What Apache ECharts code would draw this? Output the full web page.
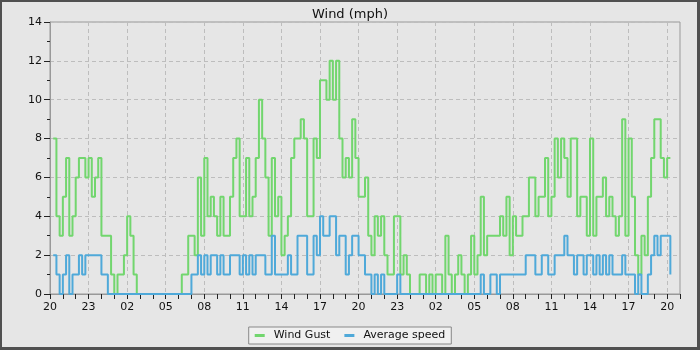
<!DOCTYPE html>
<html>
<head>
    <meta charset="utf-8">
    <title>Wind</title>
    <script src="https://cdn.jsdelivr.net/npm/echarts@6/dist/echarts.min.js"></script>
    <style>
        body { margin: 0; }
        #wrap { position: relative; width: 700px; height: 350px; }
        #main { width: 700px; height: 350px; }
        #frame { position: absolute; left: 0; top: 0; right: 0; bottom: 0;
                 border-style: solid; border-color: #505050; border-width: 2px 3px 3px 2px;
                 pointer-events: none; }
    </style>
</head>
<body>
    <div id="wrap">
        <div id="main"></div>
        <div id="frame"></div>
    </div>
    <script type="text/javascript">
        // 15-minute samples, starting 20:00 on day one (49 hours shown)
        var startHour = 20;
        var sampleCount = 197;

        // wind gust, mph, one row per hour (4 samples each)
        var gust = [
            null, 8, 4, 3,   5, 7, 3, 4,   6, 7, 7, 6,   7, 5, 6, 7,
            3, 3, 3, 1,      0, 1, 1, 2,   4, 3, 1, 0,   0, 0, 0, 0,
            0, 0, 0, 0,      0, 0, 0, 0,   0, 1, 1, 3,   3, 2, 6, 3,
            7, 4, 5, 4,      3, 5, 3, 3,   5, 7, 8, 4,   4, 7, 4, 5,
            7, 10, 8, 6,     3, 7, 4, 5,   2, 3, 4, 7,   8, 8, 9, 8,
            4, 4, 8, 7,      11, 11, 10, 12, 10, 12, 8, 6, 7, 6, 9, 7,
            5, 5, 6, 3,      2, 4, 3, 4,   2, 1, 1, 4,   4, 1, 2, 1,
            0, 0, 0, 1,      1, 0, 1, 0,   1, 1, 0, 3,   1, 0, 1, 2,
            1, 0, 1, 3,      1, 2, 5, 2,   3, 3, 3, 3,   4, 3, 5, 2,
            4, 3, 3, 4,      4, 6, 6, 4,   5, 5, 7, 4,   5, 8, 6, 8,
            7, 5, 8, 8,      4, 5, 5, 3,   8, 3, 5, 5,   6, 4, 5, 4,
            3, 4, 9, 3,      8, 5, 2, 1,   3, 2, 5, 7,   9, 9, 7, 6,
            7, 7
        ];

        // average speed, mph
        var average = [
            null, 2, 1, 0,   1, 2, 0, 1,   1, 2, 1, 2,   2, 2, 2, 2,
            1, 1, 0, 0,      0, 0, 0, 0,   0, 0, 0, 0,   0, 0, 0, 0,
            0, 0, 0, 0,      0, 0, 0, 0,   0, 0, 0, 0,   1, 1, 2, 1,
            2, 1, 2, 2,      1, 2, 1, 1,   2, 2, 2, 1,   2, 1, 2, 1,
            2, 2, 2, 1,      1, 3, 1, 1,   1, 1, 2, 1,   1, 3, 3, 3,
            1, 1, 3, 2,      4, 3, 3, 4,   4, 2, 3, 3,   1, 2, 3, 3,
            2, 2, 1, 1,      0, 1, 0, 1,   0, 0, 0, 0,   1, 0, 0, 0,
            0, 0, 0, 0,      0, 0, 0, 0,   0, 0, 0, 0,   0, 0, 0, 0,
            0, 0, 0, 0,      0, 0, 1, 0,   0, 1, 1, 0,   1, 1, 1, 1,
            1, 1, 1, 1,      2, 2, 2, 1,   1, 2, 2, 1,   1, 2, 2, 2,
            3, 2, 2, 1,      2, 2, 1, 2,   2, 1, 2, 1,   2, 1, 2, 1,
            1, 1, 2, 1,      1, 1, 0, 1,   0, 0, 1, 2,   3, 2, 3, 3,
            3, 1
        ];

        var yTicks = [0, 2, 4, 6, 8, 10, 12, 14];

        var times = [];
        for (var i = 0; i < sampleCount; i++) {
            var h = (startHour + Math.floor(i / 4)) % 24;
            var m = (i % 4) * 15;
            times.push((h < 10 ? '0' : '') + h + ':' + (m < 10 ? '0' : '') + m);
        }

        var myChart = echarts.init(document.getElementById('main'));

        var option = {
            backgroundColor: '#e6e6e6',
            animation: false,
            textStyle: { fontFamily: 'DejaVu Sans' },
            title: {
                text: 'Wind (mph)',
                left: 'center',
                top: 3,
                textStyle: { fontSize: 13, fontWeight: 'normal', color: '#111' }
            },
            legend: {
                data: ['Wind Gust', 'Average speed'],
                left: 'center',
                top: 327,
                icon: 'rect',
                itemWidth: 10,
                itemHeight: 3,
                itemGap: 14,
                padding: [3, 6],
                backgroundColor: '#f0f0f0',
                borderColor: '#888',
                borderWidth: 1,
                textStyle: { fontSize: 11, color: '#111', padding: [0, 0, 0, 4] }
            },
            grid: {
                left: 50, right: 20, top: 22, bottom: 56,
                show: true,
                borderColor: '#999',
                borderWidth: 1,
                backgroundColor: 'transparent'
            },
            xAxis: {
                type: 'category',
                data: times,
                boundaryGap: false,
                axisLine: { lineStyle: { color: '#999' } },
                axisTick: {
                    length: 5,
                    interval: function (idx) { return idx % 4 === 0; },
                    lineStyle: { color: '#222' }
                },
                axisLabel: {
                    fontSize: 11,
                    color: '#111',
                    margin: 8,
                    interval: function (idx) { return idx % 12 === 0; },
                    formatter: function (v) { return v.slice(0, 2); }
                },
                splitLine: {
                    show: true,
                    interval: function (idx) { return idx % 12 === 0; },
                    lineStyle: { color: '#bdbdbd', type: [4, 3] }
                }
            },
            yAxis: {
                type: 'value',
                min: yTicks[0],
                max: yTicks[yTicks.length - 1],
                interval: 2,
                axisLine: { show: true, lineStyle: { color: '#999' } },
                axisTick: { show: true, length: 6, lineStyle: { color: '#222' } },
                minorTick: { show: true, splitNumber: 2, length: 3, lineStyle: { color: '#222' } },
                axisLabel: { fontSize: 11, color: '#111', margin: 8 },
                splitLine: { lineStyle: { color: '#bdbdbd', type: [4, 3] } }
            },
            series: [
                {
                    name: 'Wind Gust',
                    type: 'line',
                    step: 'end',
                    data: gust,
                    showSymbol: false,
                    color: '#72d66e',
                    lineStyle: { width: 2 }
                },
                {
                    name: 'Average speed',
                    type: 'line',
                    step: 'end',
                    data: average,
                    showSymbol: false,
                    color: '#4fa9d9',
                    lineStyle: { width: 2 }
                }
            ]
        };

        myChart.setOption(option);
    </script>
</body>
</html>
